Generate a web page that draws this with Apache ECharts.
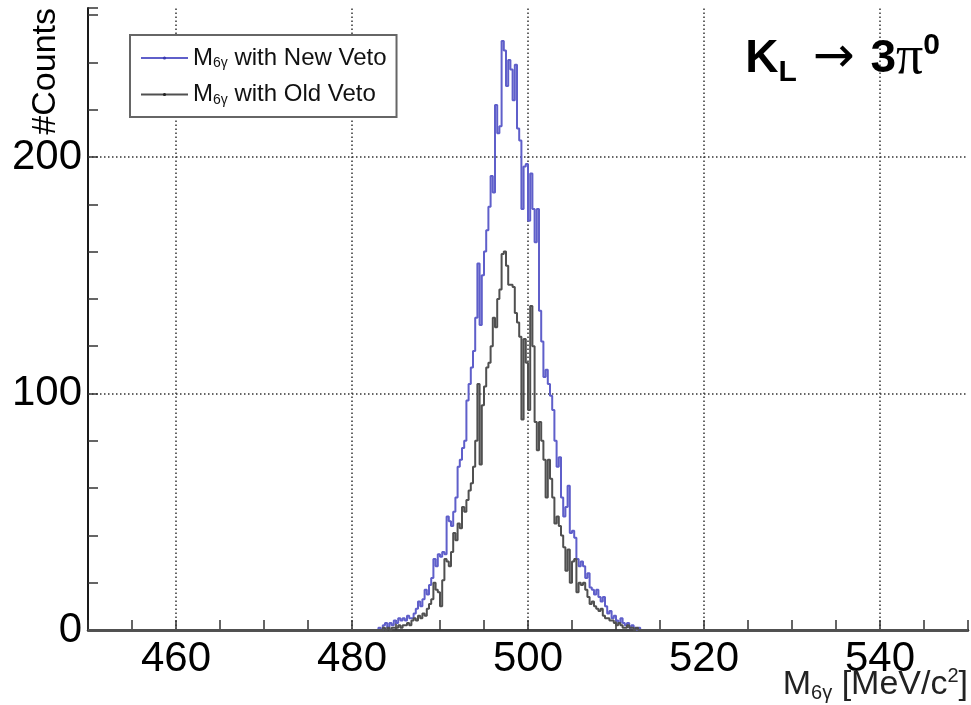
<!DOCTYPE html>
<html>
<head>
<meta charset="utf-8">
<script src="https://cdn.jsdelivr.net/npm/echarts@6/dist/echarts.min.js"></script>
<style>
html,body{margin:0;padding:0;background:#fff;}
#chart{width:971px;height:705px;}
</style>
</head>
<body>
<div id="chart"></div>
<script>
// ---- data ----
const seriesNames = ['M6γ with New Veto', 'M6γ with Old Veto'];
const binStart = 483;      // MeV/c^2, left edge of first listed bin
const binWidth = 0.25;     // MeV/c^2
const newVeto = [
  1, 0, 2, 3,   1, 3, 2, 4,   3, 5, 4, 5,   4, 6, 5, 5,
  7, 9, 12, 10,   13, 17, 15, 19,   22, 30, 27, 32,   31, 33, 32, 48,
  46, 44, 50, 56,   69, 72, 77, 80,   97, 104, 111, 118,   132, 155, 129, 150,
  160, 169, 179, 192,   185, 222, 210, 213,   249, 245, 230, 241,   237, 224, 239, 212,
  207, 178, 196, 197,   173, 193, 178, 164,   178, 135, 122, 107,   110, 104, 99, 93,
  80, 69, 73, 56,   48, 52, 61, 41,   42, 39, 30, 27,   29, 27, 22, 24,
  18, 17, 15, 17,   14, 12, 14, 10,   7, 8, 5, 6,   4, 3, 5, 3,
  2, 3, 1, 2,   1, 0, 1, 0
];
const oldVeto = [
  0, 0, 1, 0,   1, 0, 1, 1,   1, 2, 1, 2,   2, 3, 2, 4,
  5, 4, 6, 5,   7, 6, 9, 11,   13, 20, 17, 16,   10, 21, 30, 29,
  27, 33, 41, 38,   45, 43, 52, 50,   55, 59, 62, 69,   80, 104, 70, 95,
  103, 111, 113, 120,   132, 128, 140, 144,   159, 160, 154, 146,   146, 145, 134, 130,
  124, 89, 123, 113,   93, 137, 120, 88,   76, 88, 80, 72,   56, 72, 64, 56,
  45, 48, 44, 40,   35, 25, 34, 20,   29, 30, 16, 20,   19, 20, 17, 14,
  11, 12, 10, 9,   8, 9, 6, 5,   5, 4, 4, 3,   2, 3, 2, 1,
  1, 2, 1, 1,   0, 1, 0, 0
];
const xRange = [450, 550];
const yRange = [0, 263];
const xGridValues = [460, 480, 500, 520, 540];
const yGridValues = [100, 200];
const xLabelStep = 20;
const yLabelStep = 100;

// ---- build ----
function toSteps(vals) {
  const pts = [[xRange[0], 0]];
  vals.forEach((v, i) => pts.push([binStart + i * binWidth, v]));
  pts.push([binStart + vals.length * binWidth, 0]);
  pts.push([xRange[1], 0]);
  return pts;
}
const FONT = 'Liberation Sans';
const chart = echarts.init(document.getElementById('chart'), null, {renderer: 'canvas'});

const gridMarks = [];
xGridValues.forEach(v => gridMarks.push({xAxis: v}));
yGridValues.forEach(v => gridMarks.push({yAxis: v}));

chart.setOption({
  animation: false,
  backgroundColor: '#fff',
  grid: {left: 88, right: 0, top: 8, bottom: 75, containLabel: false},
  xAxis: [{
    type: 'value', min: xRange[0], max: xRange[1], interval: 5,
    axisLine: {show: true, onZero: false, lineStyle: {color: '#1a1a1a', width: 2.5}},
    axisTick: {show: true, inside: true, length: 10, lineStyle: {color: '#333', width: 1.5}},
    axisLabel: {
      fontFamily: FONT, fontSize: 42, color: '#000', margin: 8,
      formatter: v => (v % xLabelStep === 0 ? String(v) : '')
    },
    splitLine: {show: false}
  }, {
    type: 'value', position: 'top', min: xRange[0], max: xRange[1],
    axisLine: {show: true, lineStyle: {color: '#444', width: 2}},
    axisTick: {show: false}, axisLabel: {show: false}, splitLine: {show: false}
  }],
  yAxis: {
    type: 'value', min: yRange[0], max: yRange[1], interval: 20,
    axisLine: {show: true, lineStyle: {color: '#1a1a1a', width: 2}},
    axisTick: {show: true, inside: true, length: 10, lineStyle: {color: '#333', width: 1.5}},
    axisLabel: {
      fontFamily: FONT, fontSize: 42, color: '#000', margin: 6,
      formatter: v => (v % yLabelStep === 0 ? String(v) : '')
    },
    splitLine: {show: false}
  },
  legend: {
    orient: 'vertical', left: 130, top: 35,
    padding: [11, 10, 10, 10], itemGap: 12, itemWidth: 47, itemHeight: 4,
    borderColor: '#666', borderWidth: 2, backgroundColor: '#fff',
    data: seriesNames,
    formatter: name => '{m|M}{s|6γ}{m|' + name.slice(3) + '}',
    textStyle: {
      fontFamily: FONT, fontSize: 24, color: '#111',
      rich: {
        m: {fontFamily: FONT, fontSize: 24, color: '#111', lineHeight: 26},
        s: {fontFamily: FONT, fontSize: 14, color: '#111', padding: [11, 0, 0, 0]}
      }
    }
  },
  title: {
    right: 26, top: 24,
    text: '{k|K}{sub|L}{ar| → }{k|3}{pi|π}{sup|0}',
    textStyle: {
      fontWeight: 'normal',
      rich: {
        k: {fontFamily: FONT, fontWeight: 'bold', fontSize: 46, color: '#000', lineHeight: 60},
        sub: {fontFamily: FONT, fontWeight: 'bold', fontSize: 30, color: '#000', padding: [28, 0, 0, 0]},
        ar: {fontFamily: 'DejaVu Sans', fontWeight: 'normal', fontSize: 50, color: '#000'},
        pi: {fontFamily: 'Liberation Serif', fontWeight: 'normal', fontSize: 54, color: '#000'},
        sup: {fontFamily: FONT, fontWeight: 'bold', fontSize: 30, color: '#000', padding: [0, 0, 26, 0]}
      }
    }
  },
  graphic: [
    {
      type: 'text', x: 46, y: 8, rotation: Math.PI / 2,
      style: {text: '#Counts', font: '34px "Liberation Sans"', fill: '#000', align: 'right', verticalAlign: 'middle'}
    },
    {
      type: 'text', right: 3, bottom: 2,
      style: {
        text: '{m|M}{s|6γ}{m| [MeV/c}{sup|2}{m|]}',
        rich: {
          m: {fontFamily: FONT, fontSize: 34, fill: '#222'},
          s: {fontFamily: FONT, fontSize: 20, fill: '#222', padding: [16, 0, 0, 0]},
          sup: {fontFamily: FONT, fontSize: 20, fill: '#222', padding: [0, 0, 18, 0]}
        }
      }
    }
  ],
  series: [
    {
      name: seriesNames[0], type: 'line', step: 'end',
      data: toSteps(newVeto), showSymbol: false, symbol: 'circle', symbolSize: 3,
      lineStyle: {color: '#5f5fca', width: 2}, itemStyle: {color: '#3a3ab0'},
      z: 3,
      markLine: {
        silent: true, symbol: 'none', label: {show: false}, animation: false,
        lineStyle: {color: '#333', width: 1.5, type: [1.5, 2.5]},
        data: gridMarks, z: 1
      }
    },
    {
      name: seriesNames[1], type: 'line', step: 'end',
      data: toSteps(oldVeto), showSymbol: false, symbol: 'circle', symbolSize: 3,
      lineStyle: {color: '#505050', width: 2}, itemStyle: {color: '#222'},
      z: 4
    }
  ]
});
</script>
</body>
</html>
